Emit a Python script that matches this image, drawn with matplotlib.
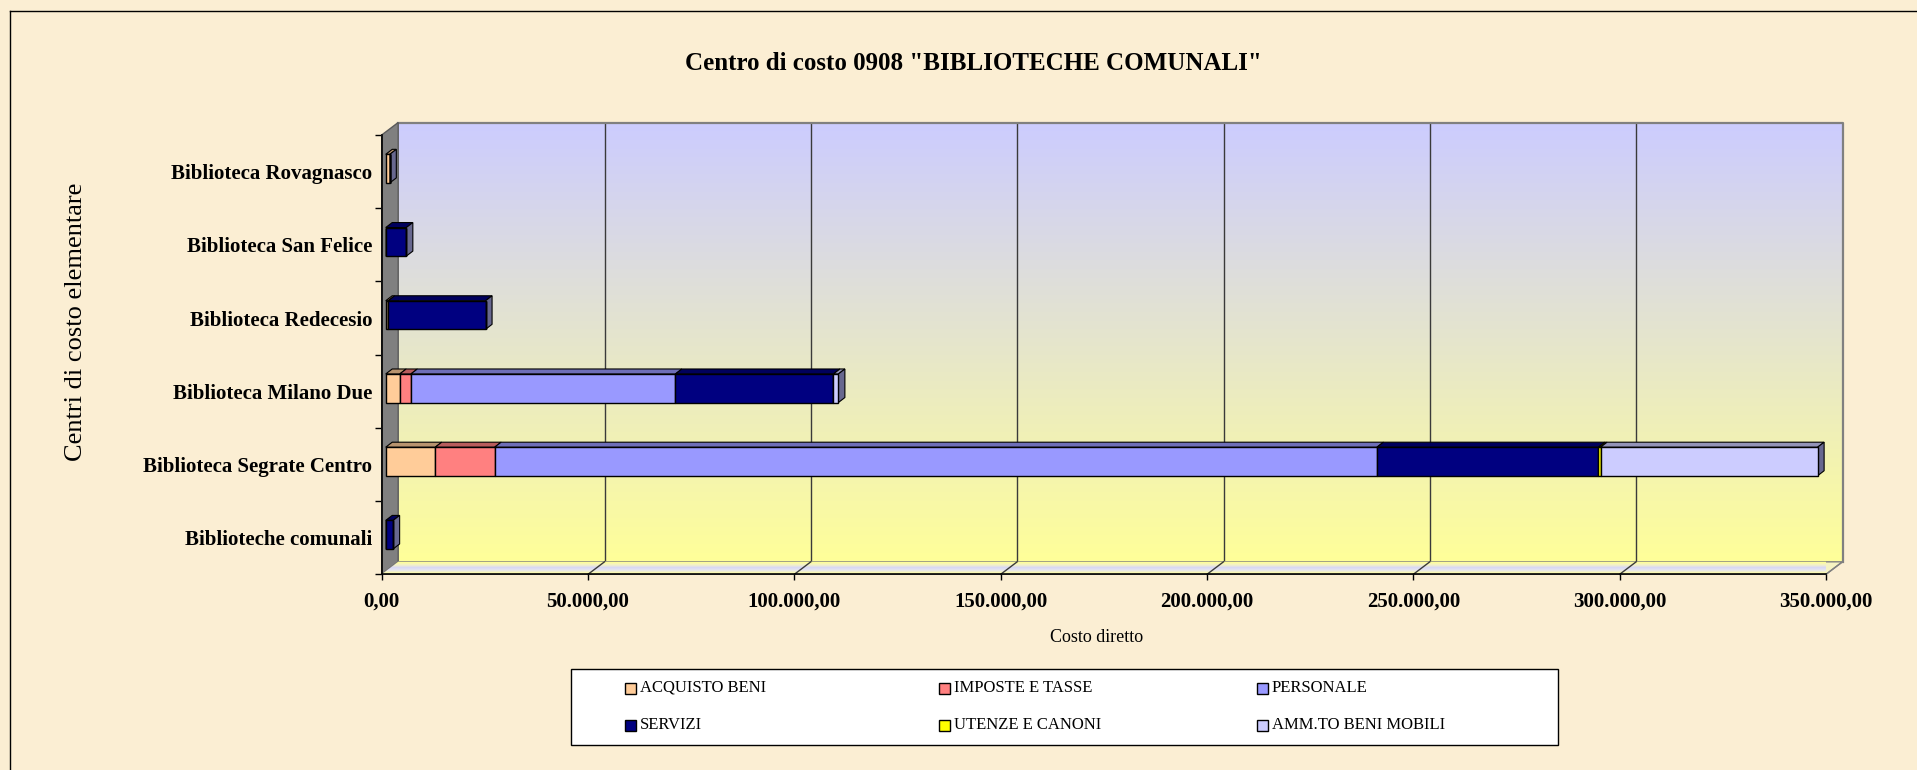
import numpy as np
import matplotlib
matplotlib.use("Agg")
import matplotlib.pyplot as plt
from matplotlib.transforms import offset_copy, IdentityTransform
from matplotlib.patches import Polygon, Rectangle
from matplotlib.lines import Line2D
from matplotlib.colors import to_rgb
from matplotlib.ticker import FixedLocator, FuncFormatter, NullFormatter

# ---------------- data ----------------
categories = [
    "Biblioteca Rovagnasco",
    "Biblioteca San Felice",
    "Biblioteca Redecesio",
    "Biblioteca Milano Due",
    "Biblioteca Segrate Centro",
    "Biblioteche comunali",
]
series_names = ["ACQUISTO BENI", "IMPOSTE E TASSE", "PERSONALE",
                "SERVIZI", "UTENZE E CANONI", "AMM.TO BENI MOBILI"]
acquisto_beni = [1000, 0, 600, 3400, 12000, 0]
imposte_tasse = [0, 0, 0, 2700, 14400, 0]
personale = [0, 0, 0, 64100, 213800, 0]
servizi = [0, 5000, 23600, 38300, 53700, 1800]
utenze_canoni = [0, 0, 0, 0, 500, 0]
amm_beni_mobili = [0, 0, 0, 1200, 52600, 0]
series_values = [acquisto_beni, imposte_tasse, personale,
                 servizi, utenze_canoni, amm_beni_mobili]
series_colors = ["#FFCC99", "#FF8080", "#9999FF", "#000080", "#FFFF00", "#CCCCFF"]
x_ticks = [0, 50000, 100000, 150000, 200000, 250000, 300000, 350000]

title = 'Centro di costo 0908 "BIBLIOTECHE COMUNALI"'
x_label = "Costo diretto"
y_label = "Centri di costo elementare"

# ---------------- style ----------------
plt.rcParams["font.family"] = ["Liberation Serif", "DejaVu Serif"]

W, H = 1917, 770
fig = plt.figure(figsize=(W / 100, H / 100), dpi=100)
fig.patch.set_facecolor("#FBEED3")


def fx(px):
    return px / W


def fy(py):
    return 1 - py / H


n = len(categories)
xmax = x_ticks[-1]
x0, x1 = 381.7, 1826.0
ytop, ybot = 135.0, 574.3
ax = fig.add_axes([fx(x0), fy(ybot), (x1 - x0) / W, (ybot - ytop) / H])
ax.set_facecolor("none")

WD = np.array([16.5, 12.5])   # wall depth (px)
BO = (4.0, 3.0)               # bar front-plane offset (px)
BD = np.array([6.5, 5.0])     # bar depth (px)
bar_h = 0.39

back_tr = offset_copy(ax.transData, fig=fig, x=WD[0], y=WD[1], units="dots")
bar_tr = offset_copy(ax.transData, fig=fig, x=BO[0], y=BO[1], units="dots")
ident = IdentityTransform()

# back wall gradient
top_c = np.array(to_rgb("#CCCCFF"))
bot_c = np.array(to_rgb("#FFFF99"))
t = np.linspace(0, 1, 256)[:, None]
grad = (top_c * (1 - t) + bot_c * t).reshape(256, 1, 3)
im = ax.imshow(grad, extent=(0, xmax, 0, n), transform=back_tr, aspect="auto",
               origin="upper", zorder=0, interpolation="bilinear")
im.set_clip_on(False)
ax.set_xlim(0, xmax)
ax.set_ylim(0, n)

ax.vlines(x_ticks[1:-1], 0, n, transform=back_tr, colors="#3a3a3a", lw=1.0,
          zorder=1, clip_on=False)
ax.plot([0, xmax, xmax], [n, n, 0], transform=back_tr, color="#808080",
        lw=1.6, zorder=1, clip_on=False)


def F(x, y, tr=None):
    return (tr or ax.transData).transform((x, y))


# left wall
lw_pts = [F(0, 0), F(0, n), F(0, n) + WD, F(0, 0) + WD]
ax.add_patch(Polygon(lw_pts, closed=True, transform=ident, facecolor="#808080",
                     edgecolor="#5a5a5a", lw=1, zorder=2, clip_on=False))

# floor
fl_pts = [F(0, 0), F(xmax, 0), F(xmax, 0) + WD, F(0, 0) + WD]
floor = Polygon(fl_pts, closed=True, transform=ident, facecolor="#F6F3C2",
                edgecolor="#808080", lw=1, zorder=2, clip_on=False)
ax.add_patch(floor)
fgrad_cols = np.array([to_rgb("#FFFF99"), to_rgb("#F4F2C8"), to_rgb("#D8D8F4"),
                       to_rgb("#E6E6F0"), to_rgb("#FAF8B0")])
fg = fgrad_cols.reshape(5, 1, 3)
p0 = F(0, 0)
p1 = F(xmax, 0) + WD
fim = ax.imshow(fg, extent=(p0[0], p1[0], p0[1], p1[1]), transform=ident,
                aspect="auto", origin="upper", zorder=2.1, interpolation="bilinear")
fim.set_clip_path(floor)
for xv in x_ticks[1:]:
    a = F(xv, 0)
    b = a + WD
    ax.add_line(Line2D([a[0], b[0]], [a[1], b[1]], transform=ident,
                       color="#3a3a3a" if xv < xmax else "#808080", lw=1.0,
                       zorder=2.5, clip_on=False))

# bars
y_pos = np.array([n - 0.5 - i for i in range(n)])
left = np.zeros(n)


def shade(c, k=0.72):
    return tuple(np.array(to_rgb(c)) * k)


for name, vals, col in zip(series_names, series_values, series_colors):
    vals = np.array(vals, dtype=float)
    ax.barh(y_pos, vals, left=left, height=bar_h, color=col, edgecolor="black",
            lw=1.0, transform=bar_tr, zorder=6, clip_on=False, label=name)
    for i in range(n):
        if vals[i] > 0:
            a = F(left[i], y_pos[i] + bar_h / 2, bar_tr)
            b = F(left[i] + vals[i], y_pos[i] + bar_h / 2, bar_tr)
            ax.add_patch(Polygon([a, b, b + BD, a + BD], closed=True, transform=ident,
                                 facecolor=shade(col), edgecolor="black", lw=0.8,
                                 zorder=5, clip_on=False))
    left += vals

for i in range(n):
    a = F(left[i], y_pos[i] - bar_h / 2, bar_tr)
    b = F(left[i], y_pos[i] + bar_h / 2, bar_tr)
    ax.add_patch(Polygon([a, b, b + BD, a + BD], closed=True, transform=ident,
                         facecolor="#68688F", edgecolor="black", lw=0.8,
                         zorder=5, clip_on=False))

# axes / ticks
for s in ("top", "right"):
    ax.spines[s].set_visible(False)
for s in ("left", "bottom"):
    ax.spines[s].set_color("black")
    ax.spines[s].set_linewidth(1.2)
    ax.spines[s].set_zorder(7)


def it_fmt(v, pos):
    s = f"{v:,.2f}"
    return s.replace(",", "X").replace(".", ",").replace("X", ".")


ax.xaxis.set_major_locator(FixedLocator(x_ticks))
ax.xaxis.set_major_formatter(FuncFormatter(it_fmt))
ax.tick_params(axis="x", direction="out", length=4.3, width=1, pad=8,
               labelsize=15)
for lab in ax.get_xticklabels():
    lab.set_fontweight("bold")

ax.yaxis.set_major_locator(FixedLocator(list(range(n + 1))))
ax.yaxis.set_major_formatter(NullFormatter())
ax.yaxis.set_minor_locator(FixedLocator(list(y_pos)))
ax.yaxis.set_minor_formatter(FuncFormatter(
    lambda v, pos: categories[int(round(n - 0.5 - v))]))
ax.tick_params(axis="y", which="major", direction="out", length=5, width=1)
ax.tick_params(axis="y", which="minor", length=0, pad=6.8, labelsize=15)
for lab in ax.get_yticklabels(minor=True):
    lab.set_fontweight("bold")

# texts
fig.text(fx(973), fy(64), title, ha="center", va="center", fontsize=18,
         fontweight="bold")
fig.text(fx(76), fy(322), y_label, rotation=90, ha="center", va="center",
         fontsize=19)
fig.text(fx(1097), fy(638), x_label, ha="center", va="center", fontsize=13)

# legend box
fig.add_artist(Rectangle((fx(571), fy(745)), (1558 - 571) / W, (745 - 669) / H,
                         transform=fig.transFigure, facecolor="white",
                         edgecolor="black", lw=1))
col_x = [630, 944, 1262]
row_y = [688, 725]
sq = 11
for k, (name, col) in enumerate(zip(series_names, series_colors)):
    r, c = divmod(k, 3)
    cx, cy = col_x[c], row_y[r]
    fig.add_artist(Rectangle((fx(cx - sq / 2), fy(cy + sq / 2)), sq / W, sq / H,
                             transform=fig.transFigure, facecolor=col,
                             edgecolor="black", lw=1))
    fig.text(fx(cx + 10), fy(cy), name, ha="left", va="center", fontsize=12)

# outer chart border (left and top)
fig.add_artist(Line2D([fx(10), fx(10)], [fy(11), 0], transform=fig.transFigure,
                      color="black", lw=1))
fig.add_artist(Line2D([fx(10), 1], [fy(11), fy(11)], transform=fig.transFigure,
                      color="black", lw=1))

fig.savefig("out.png", dpi=100, facecolor=fig.get_facecolor())
